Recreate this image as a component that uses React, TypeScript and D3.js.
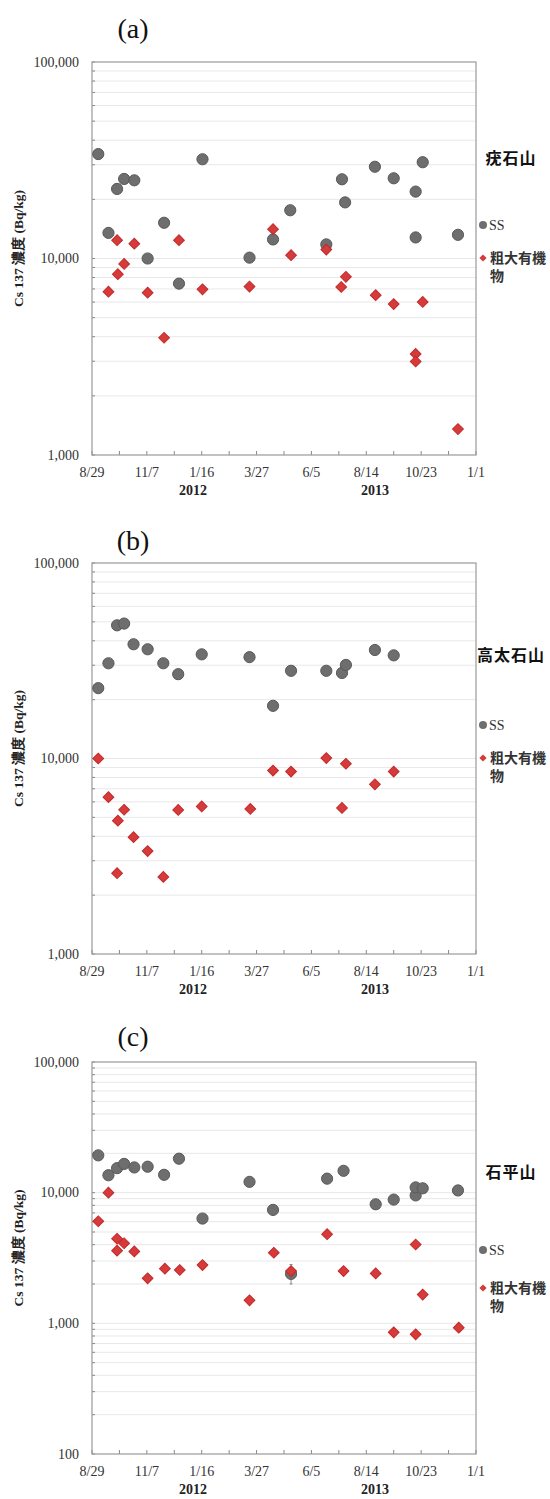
import React, { useEffect, useRef } from 'react';
import * as d3 from 'd3';

// x축: 2012/8/29 ~ 2014/1/1, 35일 간격 눈금 (70일마다 라벨)
const dateStart = '2012-08-29';
const dateEnd = '2014-01-01';
const tickStepDays = 35;
const labelStepDays = 70;
const yearLabels = ['2012', '2013'];
const yearLabelDates = ['2013-01-05', '2013-08-25'];

const panelIds = ['(a)', '(b)', '(c)'];
const siteNames = ['疣石山', '高太石山', '石平山'];
const seriesNames = ['SS', '粗大有機物'];
const yAxisTitle = 'Cs 137 濃度 (Bq/kg)';

// (a) 疣石山
const ssDatesA = [
  '2012-09-06', '2012-09-19', '2012-09-30', '2012-10-09', '2012-10-22', '2012-11-08', '2012-11-29',
  '2012-12-18', '2013-01-17', '2013-03-18', '2013-04-17', '2013-05-09', '2013-06-24', '2013-07-14',
  '2013-07-18', '2013-08-25', '2013-09-18', '2013-10-16', '2013-10-16', '2013-10-25', '2013-12-09',
];
const ssValuesA = [
  34000, 13500, 22600, 25400, 25000, 10000, 15200, 7450, 32000, 10100, 12500, 17600, 11800, 25300, 19300,
  29300, 25600, 21900, 12800, 30900, 13200,
];
const orgDatesA = [
  '2012-09-19', '2012-09-30', '2012-10-01', '2012-10-09', '2012-10-22', '2012-11-08', '2012-11-29',
  '2012-12-18', '2013-01-17', '2013-03-18', '2013-04-17', '2013-05-10', '2013-06-24', '2013-07-13',
  '2013-07-19', '2013-08-26', '2013-09-18', '2013-10-16', '2013-10-16', '2013-10-25', '2013-12-09',
];
const orgValuesA = [
  6780, 12400, 8320, 9380, 11900, 6700, 3950, 12400, 6970, 7200, 14100, 10400, 11100, 7160, 8070, 6510, 5860,
  3270, 2990, 6010, 1355,
];

// (b) 高太石山
const ssDatesB = [
  '2012-09-06', '2012-09-19', '2012-09-30', '2012-10-09', '2012-10-21', '2012-11-08', '2012-11-28',
  '2012-12-17', '2013-01-16', '2013-03-18', '2013-04-17', '2013-05-10', '2013-06-24', '2013-07-14',
  '2013-07-19', '2013-08-25', '2013-09-18',
];
const ssValuesB = [
  22900, 30700, 48000, 49000, 38400, 36200, 30700, 27000, 34100, 33000, 18600, 28100, 28100, 27400, 30100,
  35900, 33700,
];
const orgDatesB = [
  '2012-09-06', '2012-09-19', '2012-09-30', '2012-10-01', '2012-10-09', '2012-10-21', '2012-11-08',
  '2012-11-28', '2012-12-17', '2013-01-16', '2013-03-19', '2013-04-17', '2013-05-10', '2013-06-24',
  '2013-07-14', '2013-07-19', '2013-08-25', '2013-09-18',
];
const orgValuesB = [
  10000, 6340, 2590, 4810, 5470, 3960, 3360, 2480, 5460, 5690, 5520, 8670, 8570, 10050, 5590, 9400, 7380, 8570,
];

// (c) 石平山
const ssDatesC = [
  '2012-09-06', '2012-09-19', '2012-09-30', '2012-10-09', '2012-10-22', '2012-11-08', '2012-11-29',
  '2012-12-18', '2013-01-17', '2013-03-18', '2013-04-17', '2013-05-10', '2013-06-25', '2013-07-16',
  '2013-08-26', '2013-09-18', '2013-10-16', '2013-10-16', '2013-10-25', '2013-12-09',
];
const ssValuesC = [
  19300, 13600, 15400, 16600, 15600, 15800, 13700, 18200, 6340, 12100, 7380, 2390, 12800, 14700, 8150, 8850,
  9530, 10970, 10800, 10400,
];
const orgDatesC = [
  '2012-09-06', '2012-09-19', '2012-09-30', '2012-09-30', '2012-10-09', '2012-10-22', '2012-11-08',
  '2012-11-30', '2012-12-19', '2013-01-17', '2013-03-18', '2013-04-18', '2013-05-10', '2013-06-25',
  '2013-07-16', '2013-08-26', '2013-09-18', '2013-10-16', '2013-10-16', '2013-10-25', '2013-12-10',
];
const orgValuesC = [
  6040, 10000, 4440, 3600, 4100, 3550, 2210, 2620, 2560, 2790, 1500, 3470, 2510, 4810, 2510, 2410, 853, 4010,
  824, 1660, 927,
];
// (c) SS 5/10 오차 막대
const errDatesC = ['2013-05-10'];
const errLowC = [2000];
const errHighC = [2820];

const yDomains = [
  [1000, 100000],
  [1000, 100000],
  [100, 100000],
];

// 패널 배치 (px)
const plotLeft = 92;
const plotRight = 476;
const panelLayouts = [
  { top: 62, bottom: 455, titleY: 38, siteY: 158, ssY: 225, orgY: 258 },
  { top: 563, bottom: 954, titleY: 550, siteY: 655, ssY: 725, orgY: 758 },
  { top: 1062, bottom: 1454, titleY: 1046, siteY: 1172, ssY: 1250, orgY: 1288 },
];

const panelData = [
  { ssDates: ssDatesA, ssValues: ssValuesA, orgDates: orgDatesA, orgValues: orgValuesA, err: null },
  { ssDates: ssDatesB, ssValues: ssValuesB, orgDates: orgDatesB, orgValues: orgValuesB, err: null },
  {
    ssDates: ssDatesC,
    ssValues: ssValuesC,
    orgDates: orgDatesC,
    orgValues: orgValuesC,
    err: { dates: errDatesC, low: errLowC, high: errHighC },
  },
];

const SERIF = '"Liberation Serif", "Times New Roman", serif';
const CJK = '"Noto Sans CJK JP", "Noto Sans CJK SC", sans-serif';
const SS_FILL = '#6e6e6e';
const SS_STROKE = '#595959';
const ORG_FILL = '#d63a3a';
const ORG_STROKE = '#c22a2a';

const parseDate = d3.timeParse('%Y-%m-%d');
const fmtTick = d3.timeFormat('%-m/%-d');

const drawPanel = (svg: d3.Selection<SVGSVGElement, unknown, null, undefined>, i: number) => {
  const lay = panelLayouts[i];
  const data = panelData[i];
  const start = parseDate(dateStart)!;
  const x = d3.scaleTime().domain([start, parseDate(dateEnd)!]).range([plotLeft, plotRight]);
  const y = d3.scaleLog().domain(yDomains[i]).range([lay.bottom, lay.top]);
  const g = svg.append('g');

  // 격자선
  const yTicks = y.ticks();
  g.selectAll('line.grid')
    .data(yTicks.filter((v) => v > yDomains[i][0] && v < yDomains[i][1]))
    .join('line')
    .attr('x1', plotLeft)
    .attr('x2', plotRight)
    .attr('y1', (d) => y(d))
    .attr('y2', (d) => y(d))
    .attr('stroke', '#e8e8e8')
    .attr('stroke-width', 1);

  // y축 보조 눈금
  g.selectAll('line.ytick')
    .data(yTicks)
    .join('line')
    .attr('x1', plotLeft)
    .attr('x2', plotLeft + 3)
    .attr('y1', (d) => y(d))
    .attr('y2', (d) => y(d))
    .attr('stroke', '#888');

  // x축 눈금
  const totalDays = d3.timeDay.count(start, parseDate(dateEnd)!);
  const xTickDays = d3.range(0, totalDays + 1, tickStepDays);
  g.selectAll('line.xtick')
    .data(xTickDays)
    .join('line')
    .attr('x1', (d) => x(d3.timeDay.offset(start, d)))
    .attr('x2', (d) => x(d3.timeDay.offset(start, d)))
    .attr('y1', lay.bottom)
    .attr('y2', lay.bottom - 4)
    .attr('stroke', '#888');

  // 프레임
  g.append('rect')
    .attr('x', plotLeft)
    .attr('y', lay.top)
    .attr('width', plotRight - plotLeft)
    .attr('height', lay.bottom - lay.top)
    .attr('fill', 'none')
    .attr('stroke', '#999')
    .attr('stroke-width', 1.2);

  // y축 라벨 (10의 거듭제곱만)
  const majors = yTicks.filter((v) => Math.abs(Math.log10(v) - Math.round(Math.log10(v))) < 1e-9);
  g.selectAll('text.ylab')
    .data(majors)
    .join('text')
    .attr('x', 79)
    .attr('y', (d) => y(d) + 4.5)
    .attr('text-anchor', 'end')
    .attr('font-family', SERIF)
    .attr('font-size', 14)
    .attr('fill', '#333')
    .text((d) => d3.format(',')(d));

  // x축 라벨
  g.selectAll('text.xlab')
    .data(xTickDays.filter((d) => d % labelStepDays === 0))
    .join('text')
    .attr('x', (d) => x(d3.timeDay.offset(start, d)))
    .attr('y', lay.bottom + 22)
    .attr('text-anchor', 'middle')
    .attr('font-family', SERIF)
    .attr('font-size', 14)
    .attr('fill', '#333')
    .text((d) => fmtTick(d3.timeDay.offset(start, d)));

  g.selectAll('text.year')
    .data(yearLabels)
    .join('text')
    .attr('x', (_, k) => x(parseDate(yearLabelDates[k])!))
    .attr('y', lay.bottom + 40)
    .attr('text-anchor', 'middle')
    .attr('font-family', SERIF)
    .attr('font-weight', 'bold')
    .attr('font-size', 14)
    .attr('fill', '#222')
    .text((d) => d);

  // y축 제목
  const cy = (lay.top + lay.bottom) / 2 - 10;
  g.append('text')
    .attr('transform', `translate(23,${cy}) rotate(-90)`)
    .attr('text-anchor', 'middle')
    .attr('font-family', SERIF)
    .attr('font-weight', 'bold')
    .attr('font-size', 13.5)
    .attr('fill', '#222')
    .text(yAxisTitle);

  // 패널 제목
  g.append('text')
    .attr('x', 133)
    .attr('y', lay.titleY)
    .attr('text-anchor', 'middle')
    .attr('font-family', SERIF)
    .attr('font-size', 28)
    .attr('fill', '#111')
    .text(panelIds[i]);

  // 오차 막대
  if (data.err) {
    const err = data.err;
    err.dates.forEach((dt, k) => {
      const ex = x(parseDate(dt)!);
      g.append('line')
        .attr('x1', ex)
        .attr('x2', ex)
        .attr('y1', y(err.high[k]))
        .attr('y2', y(err.low[k]))
        .attr('stroke', '#8a8a8a');
      [err.high[k], err.low[k]].forEach((v) => {
        g.append('line')
          .attr('x1', ex - 1.5)
          .attr('x2', ex + 1.5)
          .attr('y1', y(v))
          .attr('y2', y(v))
          .attr('stroke', '#8a8a8a');
      });
    });
  }

  // SS
  g.selectAll('circle.ss')
    .data(data.ssDates)
    .join('circle')
    .attr('cx', (d) => x(parseDate(d)!))
    .attr('cy', (_, k) => y(data.ssValues[k]))
    .attr('r', 5.6)
    .attr('fill', SS_FILL)
    .attr('stroke', SS_STROKE)
    .attr('stroke-width', 1);

  // 粗大有機物
  const diamond = d3.symbol(d3.symbolSquare, 58)();
  g.selectAll('path.org')
    .data(data.orgDates)
    .join('path')
    .attr('d', diamond)
    .attr('transform', (d, k) => `translate(${x(parseDate(d)!)},${y(data.orgValues[k])}) rotate(45)`)
    .attr('fill', ORG_FILL)
    .attr('stroke', ORG_STROKE)
    .attr('stroke-width', 1);

  // 범례
  g.append('text')
    .attr('x', 511)
    .attr('y', lay.siteY + 6)
    .attr('text-anchor', 'middle')
    .attr('font-family', CJK)
    .attr('font-weight', 'bold')
    .attr('font-size', 16)
    .attr('letter-spacing', 1)
    .attr('fill', '#111')
    .text(siteNames[i]);

  g.append('circle').attr('cx', 483).attr('cy', lay.ssY).attr('r', 4).attr('fill', SS_FILL);
  g.append('text')
    .attr('x', 489)
    .attr('y', lay.ssY + 5)
    .attr('font-family', SERIF)
    .attr('font-size', 14)
    .attr('fill', '#333')
    .text(seriesNames[0]);

  g.append('path')
    .attr('d', d3.symbol(d3.symbolSquare, 26)())
    .attr('transform', `translate(483,${lay.orgY}) rotate(45)`)
    .attr('fill', ORG_FILL);
  const orgText = g
    .append('text')
    .attr('font-family', CJK)
    .attr('font-weight', 'bold')
    .attr('font-size', 14)
    .attr('fill', '#333');
  orgText.append('tspan').attr('x', 490).attr('y', lay.orgY + 5).text(seriesNames[1].slice(0, 4));
  orgText.append('tspan').attr('x', 490).attr('y', lay.orgY + 23).text(seriesNames[1].slice(4));
};

const App: React.FC = () => {
  const svgRef = useRef<SVGSVGElement>(null);

  useEffect(() => {
    if (!svgRef.current) return;
    const svg = d3.select(svgRef.current);
    svg.selectAll('*').remove();
    svg.append('rect').attr('width', 550).attr('height', 1499).attr('fill', '#fff');
    panelIds.forEach((_, i) => drawPanel(svg, i));
  }, []);

  return (
    <svg
      ref={svgRef}
      width={550}
      height={1499}
      style={{ position: 'absolute', left: 0, top: 0, display: 'block' }}
    />
  );
};

export default App;
